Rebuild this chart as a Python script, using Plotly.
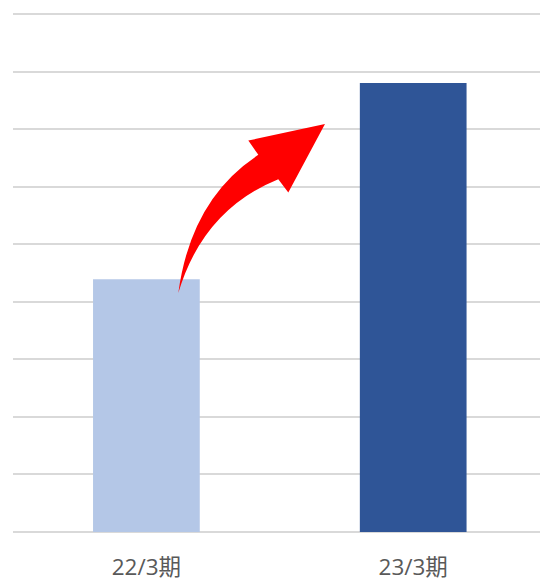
import plotly.graph_objects as go

categories = ["22/3期", "23/3期"]
values = [4.39, 7.80]
bar_colors = ["#B4C7E7", "#2F5597"]

# plot area in pixels (for decoration placement)
W, H = 540, 582
L_PX, T_PX, B_PX = 13, 14, 532.5
PLOT_W = W - L_PX
PLOT_H = B_PX - T_PX
UNIT = PLOT_H / 9
T_EXTRA = 4  # extra px above the top gridline so it is drawn


def px(x, y):
    return (x - L_PX) / PLOT_W, (B_PX - y) / (PLOT_H + T_EXTRA)


def pt(x, y):
    a, b = px(x, y)
    return f"{a:.4f},{b:.4f}"


arrow_path = (
    "M " + pt(178.3, 293.3)
    + " Q " + pt(191, 199) + " " + pt(258.3, 155)
    + " L " + pt(248.3, 140.7)
    + " L " + pt(325, 124)
    + " L " + pt(288.3, 192.7)
    + " L " + pt(278.3, 179.3)
    + " Q " + pt(203, 210) + " " + pt(178.3, 293.3)
    + " Z"
)

fig = go.Figure(
    go.Bar(
        x=categories,
        y=values,
        marker=dict(color=bar_colors, line=dict(width=0)),
        width=0.4,
        hoverinfo="skip",
    )
)

fig.update_layout(
    width=W,
    height=H,
    margin=dict(l=L_PX, r=0, t=T_PX - T_EXTRA, b=H - B_PX, autoexpand=False),
    paper_bgcolor="white",
    plot_bgcolor="white",
    showlegend=False,
    font=dict(family="Open Sans, Noto Sans CJK JP", color="#595959", size=22.5),
    xaxis=dict(
        type="category",
        range=[-0.5, -0.5 + PLOT_W / 266.8],
        showgrid=False,
        showline=False,
        ticks="",
        ticklabelstandoff=19,
        automargin=False,
    ),
    yaxis=dict(
        range=[0, 9 + T_EXTRA / UNIT],
        dtick=1,
        showgrid=True,
        gridcolor="#D9D9D9",
        gridwidth=1.6,
        zeroline=True,
        zerolinecolor="#D9D9D9",
        zerolinewidth=1.6,
        showticklabels=False,
        ticks="",
        showline=False,
        automargin=False,
    ),
    shapes=[
        dict(
            type="path",
            xref="paper",
            yref="paper",
            path=arrow_path,
            fillcolor="#FF0000",
            line=dict(width=0),
            layer="above",
        )
    ],
)

fig.write_html("out.html")
